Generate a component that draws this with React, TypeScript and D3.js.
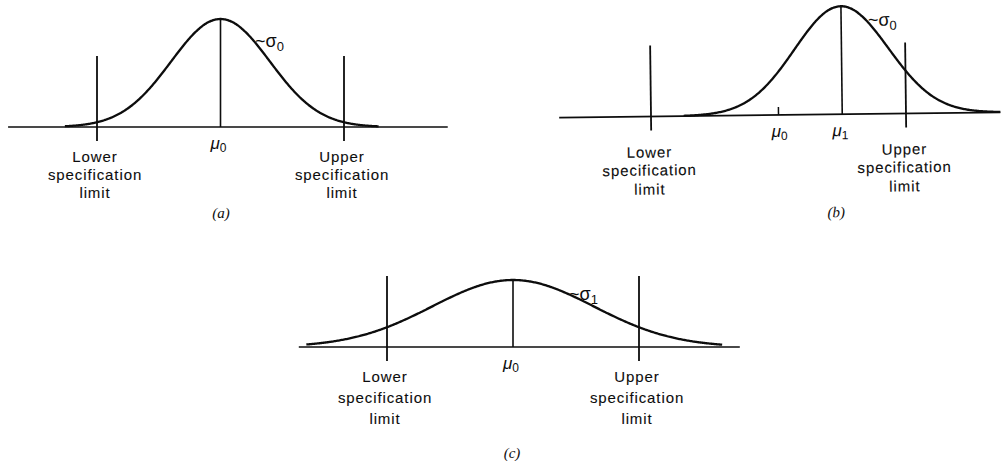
import React from "react";
import * as d3 from "d3";

// Process capability sketches: a normal process curve against the specification
// limits. The x values are in units of sigma0, measured from mu0.
const specLimits = [-2.5, 2.5];
const specLabelLines = [
  ["Lower", "specification", "limit"],
  ["Upper", "specification", "limit"],
];
const panelTags = ["(a)", "(b)", "(c)"];
const processMeans = [0, 1.25, 0]; // mu0, mu1 (shifted), mu0
const processSigmas = [1, 0.92, 1.6]; // sigma0, ~sigma0, sigma1 (wider)
const meanSymbols = [["μ", "0"], ["μ", "1"], ["μ", "0"]];
const sigmaSymbols = [["~σ", "0"], ["~σ", "0"], ["~σ", "1"]];
const targetMean = 0; // mu0, drawn as a small tick when the process has shifted

// Layout for each panel, in pixels
const frames = [
  {
    range: [97, 344], axisY: 127, peakY: 19, axis: [-4.3, 4.6], curve: [-3.15, 3.2],
    tilt: 0, rows: [162, 180, 198], meanY: 149, tag: [221, 218], sigmaAt: [255, 47],
  },
  {
    range: [651, 906], axisY: 115, peakY: 7, axis: [-4.3, 4.35], curve: [-1.86, 4.35],
    tilt: -0.7, rows: [156, 174, 193], meanY: 137, tag: [835, 218], sigmaAt: [869, 27],
  },
  {
    range: [387, 639], axisY: 347, peakY: 280, axis: [-4.25, 4.5], curve: [-4.1, 4.15],
    tilt: 0, rows: [382, 403, 424], meanY: 369, tag: [512, 458], sigmaAt: [569, 300],
  },
];

const SANS = "'Liberation Sans', Arial, sans-serif";
const SERIF = "'Liberation Serif', 'Times New Roman', serif";
const INK = "#0d0d0d";

function normalPdf(x: number, mean: number, sd: number) {
  const z = (x - mean) / sd;
  return Math.exp(-0.5 * z * z) / (sd * Math.sqrt(2 * Math.PI));
}

function Panel({ index }: { index: number }) {
  const f = frames[index];
  const mean = processMeans[index];
  const sd = processSigmas[index];

  const x = d3.scaleLinear().domain(specLimits).range(f.range);
  const peak = normalPdf(mean, mean, sd);
  const y = d3.scaleLinear().domain([0, peak]).range([f.axisY, f.peakY]);

  const samples = d3.range(f.curve[0], f.curve[1] + 1e-9, 0.02);
  if (samples[samples.length - 1] < f.curve[1]) samples.push(f.curve[1]);
  const line = d3
    .line<number>()
    .x((v) => x(v))
    .y((v) => y(normalPdf(v, mean, sd)))
    .curve(d3.curveMonotoneX);

  const cx = x(targetMean);
  const shifted = mean !== targetMean;

  return (
    <g transform={f.tilt ? `rotate(${f.tilt}, ${cx}, ${f.axisY})` : undefined}>
      {/* horizontal axis */}
      <line
        x1={x(f.axis[0])}
        x2={x(f.axis[1])}
        y1={f.axisY}
        y2={f.axisY}
        stroke={INK}
        strokeWidth={1.7}
      />
      {/* specification limits */}
      {specLimits.map((s, i) => (
        <line
          key={`spec-${i}`}
          x1={x(s)}
          x2={x(s)}
          y1={f.axisY - 71}
          y2={f.axisY + 14}
          stroke={INK}
          strokeWidth={1.8}
        />
      ))}
      {/* process mean */}
      <line
        x1={x(mean)}
        x2={x(mean)}
        y1={f.axisY}
        y2={y(peak)}
        stroke={INK}
        strokeWidth={1.6}
      />
      {shifted && (
        <line x1={cx} x2={cx} y1={f.axisY} y2={f.axisY - 8} stroke={INK} strokeWidth={1.5} />
      )}
      {/* distribution curve */}
      <path d={line(samples) ?? ""} fill="none" stroke={INK} strokeWidth={2.3} />

      {/* spec limit captions */}
      {specLimits.map((s, i) => (
        <text
          key={`cap-${i}`}
          x={x(s) - 2}
          textAnchor="middle"
          fontFamily={SANS}
          fontSize={15}
          letterSpacing={0.9}
          fill={INK}
          stroke={INK}
          strokeWidth={0.1}
        >
          {specLabelLines[i].map((t, r) => (
            <tspan key={r} x={x(s) - 2} y={f.rows[r]}>
              {t}
            </tspan>
          ))}
        </text>
      ))}

      {/* mean labels */}
      {shifted && (
        <text
          x={cx + 1}
          y={f.meanY}
          textAnchor="middle"
          fontFamily={SANS}
          fontSize={17}
          fontStyle="italic"
          fill={INK}
        >
          μ<tspan fontSize={12} fontStyle="normal" dy={3}>0</tspan>
        </text>
      )}
      <text
        x={x(mean) - 2}
        y={f.meanY}
        textAnchor="middle"
        fontFamily={SANS}
        fontSize={17}
        fontStyle="italic"
        fill={INK}
      >
        {meanSymbols[index][0]}
        <tspan fontSize={12} fontStyle="normal" dy={3}>
          {meanSymbols[index][1]}
        </tspan>
      </text>

      {/* spread label */}
      <text x={f.sigmaAt[0]} y={f.sigmaAt[1]} fontFamily={SANS} fontSize={18} fill={INK}>
        {sigmaSymbols[index][0]}
        <tspan fontSize={13} dy={4}>
          {sigmaSymbols[index][1]}
        </tspan>
      </text>

      {/* panel tag */}
      <text
        x={f.tag[0]}
        y={f.tag[1]}
        textAnchor="middle"
        fontFamily={SERIF}
        fontStyle="italic"
        fontSize={15}
        fill={INK}
      >
        {panelTags[index]}
      </text>
    </g>
  );
}

export default function App() {
  return (
    <svg
      width={1005}
      height={461}
      viewBox="0 0 1005 461"
      style={{ position: "absolute", left: 0, top: 0, display: "block", background: "#fff" }}
    >
      <rect width={1005} height={461} fill="#fff" />
      {panelTags.map((_, i) => (
        <Panel key={i} index={i} />
      ))}
    </svg>
  );
}
